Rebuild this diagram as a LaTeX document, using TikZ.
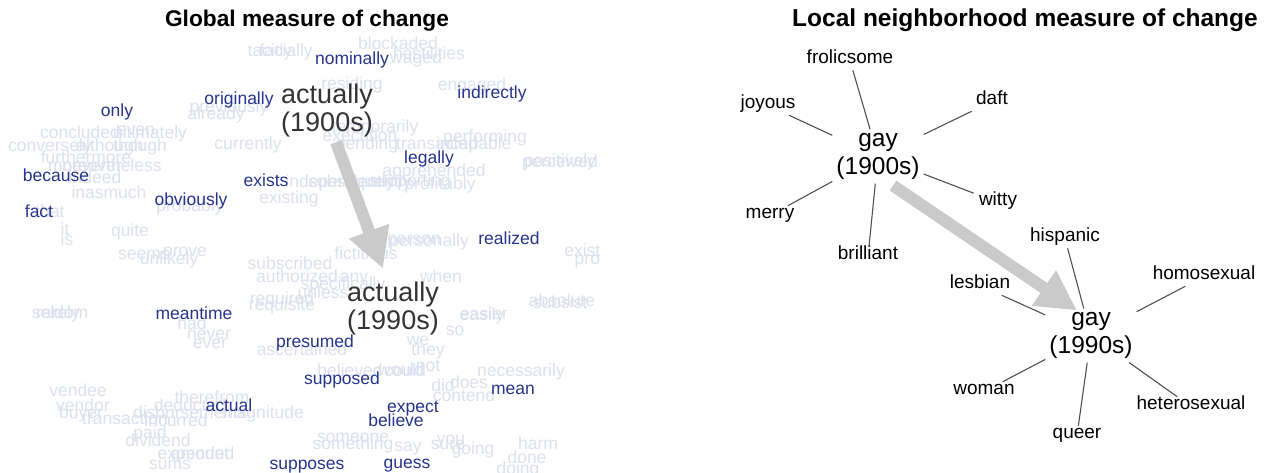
\documentclass[tikz,border=0pt]{standalone}
\usepackage{fontspec}
\setmainfont{Liberation Sans}
\usetikzlibrary{arrows.meta,calc}
\definecolor{wordblue}{RGB}{38,52,140}
\definecolor{wordfaint}{RGB}{221,224,239}
\definecolor{arrowgray}{RGB}{201,202,201}
\definecolor{spokegray}{RGB}{80,80,84}
\begin{document}
\begin{tikzpicture}[x=1pt,y=-1pt,
    every node/.append style={yshift=-3.5pt},
    word/.style={inner sep=0pt,text height=.72em,text depth=.2em,font=\fontsize{17.5}{20}\selectfont},
    faint/.style={word,text=wordfaint},
    near/.style={word,text=wordblue},
    focus/.style={align=center,inner sep=2pt,text=black!80,font=\fontsize{27}{28}\selectfont},
    nbr/.style={inner sep=5pt,text height=.72em,text depth=.2em,font=\fontsize{19}{22}\selectfont},
    hub/.style={align=center,inner sep=4pt,font=\fontsize{24.5}{27.5}\selectfont},
    spoke/.style={spokegray,line width=1.1pt},
    bigarrow/.style={arrowgray,line width=12pt,-{Triangle[length=40pt,width=40pt]}},
    heading/.style={font=\fontsize{22.7}{26}\selectfont\bfseries}]
  \useasboundingbox (0,0) rectangle (1265,472);
  % titles
  \node[heading] (titleL) at (307,17) {Global measure of change};
  \node[heading,font=\fontsize{24.5}{28}\selectfont\bfseries] (titleR) at (1025,17) {Local neighborhood measure of change};
  % left panel: faded cloud
  \begin{scope}
    \clip (0,0) rectangle (600,472);
    \foreach \w/\px/\py [count=\i] in {tacitly/270/50,facially/286/50,blockaded/398/43,hostilities/429/53,
        waged/416/57,residing/352/83,engaged/472/84,previously/229/106,already/216/113,currently/248/143,
        temporarily/375/126,execution/360/135,pending/367/143,transacted/437/143,performing/485/136,
        incapable/474/143,positively/560/160,perceived/560/161,apprehended/434/170,independently/340/181,
        subsequently/360/181,supporting/410/180,profitably/440/183,existing/289/197,conversely/50/145,
        concluded/80/132,even/136/129,ultimately/150/132,although/110/145,though/140/145,furthermore/86/157,
        moreover/85/165,nevertheless/112/165,indeed/95/177,inasmuch/109/192,probably/190/205,that/50/211,
        it/65/229,is/67/239,quite/130/230,seems/144/253,prove/185/250,unlikely/169/258,subscribed/290/263,
        authorized/297/276,any/354/276,specifically/343/283,unless/323/292,required/282/298,requisite/282/304,
        fictitious/366/253,person/414/238,personally/429/240,when/441/276,existed/592/250,proper/600/258,
        subsist/560/302,absolute/562/300,easier/484/313,easily/482/314,so/455/329,seldom/60/312,rarely/58/312,
        had/192/323,never/209/333,ever/210/342,ascertained/302/349,we/418/339,they/428/349,not/428/365,
        would/401/369,could/405/370,believed/350/370,necessarily/521/370,does/469/382,did/443/385,
        contend/464/395,vendee/78/390,vendor/83/405,buyer/81/412,transaction/125/418,therefrom/212/397,
        deducted/190/405,disbursements/190/412,magnitude/263/412,incurred/176/420,paid/150/432,
        dividend/158/440,expended/196/453,amount/200/453,sums/170/463,someone/353/436,something/353/443,
        say/408/445,you/451/438,sure/448/443,going/473/448,harm/538/443,done/527/457,doing/518/468}
      \node[faint] (fw\i) at (\px,\py) {\w};
  \end{scope}
  % left panel: nearest neighbours
  \foreach \w/\px/\py in {nominally/352/58,originally/239/98,indirectly/492/92,only/117/110,legally/429/157,
      because/56/175,exists/266/180,obviously/191/199,fact/39/211,realized/509/238,meantime/194/313,
      presumed/315/341,supposed/342/378,mean/513/388,actual/229/405,expect/413/406,believe/396/420,
      supposes/307/463,guess/407/462}
    \node[near] (nw-\w) at (\px,\py) {\w};
  \node[focus] (act1900) at (327,107) {actually\\(1900s)};
  \node[focus] (act1990) at (393,305) {actually\\(1990s)};
  \draw[bigarrow] ($(act1900.south)+(9,3)$) -- ($(act1990.north)+(-10,-11)$);
  % right panel
  \node[hub] (gayold) at (878,153) {gay\\(1900s)};
  \node[hub] (gaynew) at (1091,332) {gay\\(1990s)};
  \foreach \w/\px/\py in {frolicsome/850/57,joyous/768/102,daft/992/98,merry/770/212,brilliant/868/253,witty/998/199}{
    \node[nbr] (old-\w) at (\px,\py) {\w};
    \draw[spoke] (gayold) -- (old-\w);
  }
  \foreach \w/\px/\py in {hispanic/1065/235,lesbian/980/282,homosexual/1204/273,woman/984/388,queer/1077/432,heterosexual/1191/403}{
    \node[nbr] (new-\w) at (\px,\py) {\w};
    \draw[spoke] (gaynew) -- (new-\w);
  }
  \draw[bigarrow] ($(gayold.south)+(15,2)$) -- ($(gaynew.north)+(-14,2)$);
\end{tikzpicture}
\end{document}
